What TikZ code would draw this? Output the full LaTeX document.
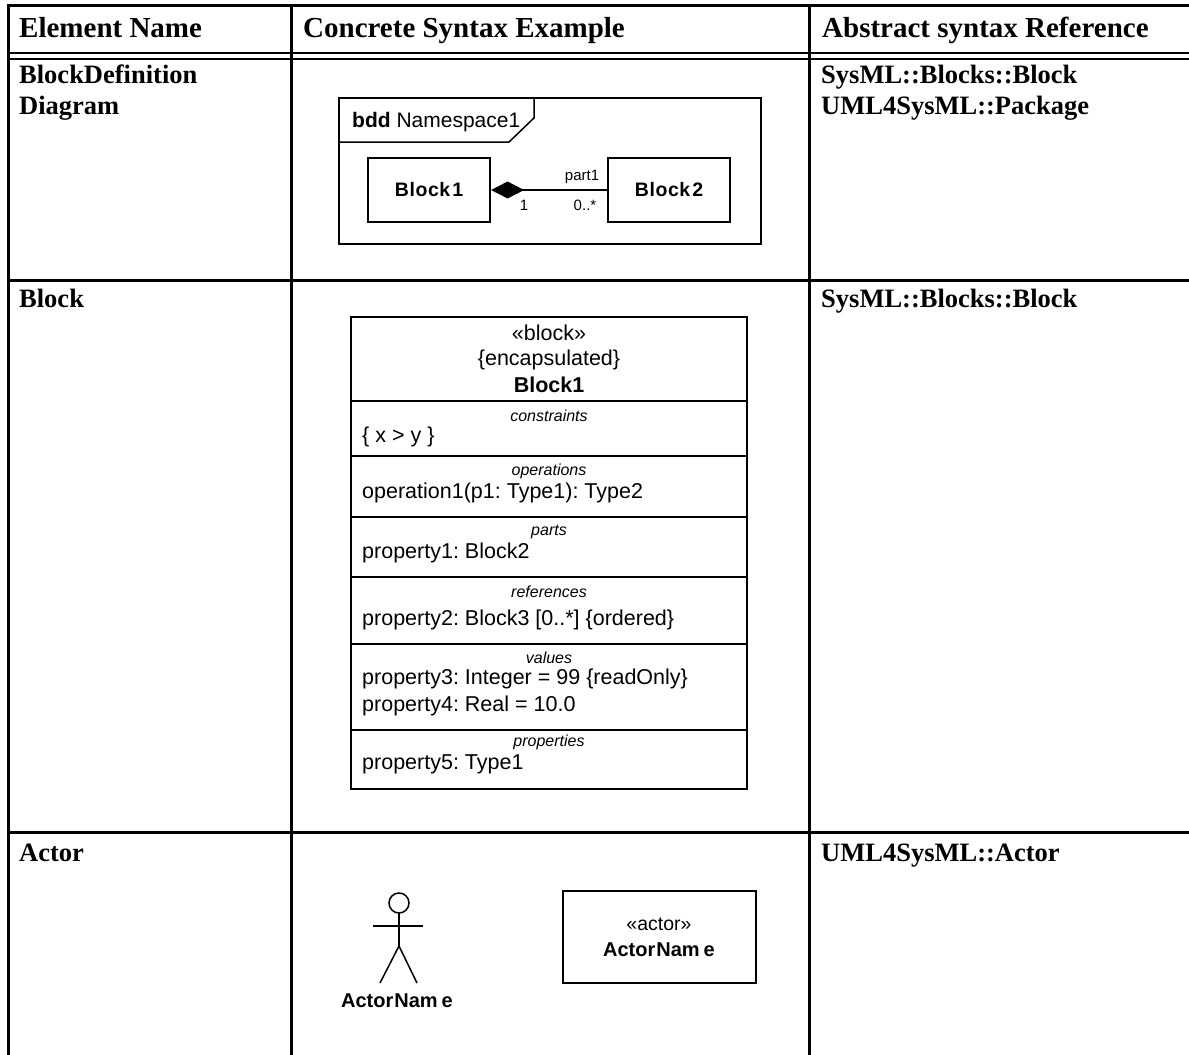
\documentclass[tikz,border=0pt]{standalone}
\usepackage{fontspec}
\setmainfont{Liberation Serif}
\newfontfamily\arial{Liberation Sans}
\newfontfamily\arialls[LetterSpace=3]{Liberation Sans}
\usetikzlibrary{arrows.meta}
\frenchspacing
\begin{document}
\frenchspacing
\begin{tikzpicture}[x=1pt,y=-1pt,
  tline/.style={line width=3pt},
  hdr/.style={anchor=base west, inner sep=0pt, font=\fontsize{29}{31}\selectfont\bfseries},
  cell/.style={anchor=base west, inner sep=0pt, font=\fontsize{26.5}{30}\selectfont\bfseries},
  small/.style={inner sep=0pt, font=\arial\fontsize{16}{18}\selectfont\itshape},
  body/.style={inner sep=0pt, font=\arial\fontsize{21.5}{25}\selectfont},
  bodyl/.style={body, anchor=west},
  boxd/.style={draw, line width=2pt, inner sep=0pt},
  uml/.style={line width=1.5pt},
  bddblock/.style={boxd, line width=2.2pt, minimum width=122pt, minimum height=64pt, font=\arialls\fontsize{19.5}{22}\selectfont\bfseries}
]
\useasboundingbox (0,0) rectangle (1189,1055);
% table
\draw[tline] (6.5,5) -- (1189,5);
\draw[line width=2pt] (7,53) -- (1189,53);
\draw[line width=2pt] (7,59) -- (1189,59);
\draw[tline] (7,280) -- (1189,280);
\draw[tline] (7,832) -- (1189,832);
\draw[tline] (8,3.5) -- (8,1055);
\draw[tline] (291,3.5) -- (291,1055);
\draw[tline] (809,3.5) -- (809,1055);
% headers
\node[hdr] (h1) at (19,37) {Element Name};
\node[hdr] (h2) at (303,37) {Concrete Syntax Example};
\node[hdr] (h3) at (822,37) {Abstract syntax Reference};
% row texts
\node[cell] (r1a) at (19,83) {BlockDefinition};
\node[cell] (r1b) at (19,114) {Diagram};
\node[cell] (r1c) at (821,83) {SysML::Blocks::Block};
\node[cell] (r1d) at (821,114) {UML4SysML::Package};
\node[cell] (r2a) at (19,307) {Block};
\node[cell] (r2c) at (821,307) {SysML::Blocks::Block};
\node[cell] (r3a) at (19,861) {Actor};
\node[cell] (r3c) at (821,861) {UML4SysML::Actor};
% bdd
\node[draw, uml, anchor=north west, minimum width=422pt, minimum height=146pt, inner sep=0pt] (frame) at (338,97) {};
\draw[uml] (frame.west |- 0,142) -- (509,142) -- (534,118) -- (534,97);
\node[anchor=base west, inner sep=0pt, font=\arial\fontsize{21}{24}\selectfont] (bddlbl) at (352,127) {\textbf{bdd} Namespace1};
\node[bddblock] (b1) at (429,190) {Block\kern2pt 1};
\node[bddblock] (b2) at (669,190) {Block\kern2pt 2};
\draw[uml, {Diamond[length=33pt,width=17pt]}-] (b1) -- (b2);
\node[inner sep=0pt, font=\arial\fontsize{15}{17}\selectfont] (pl) at (582,177) {part1};
\node[inner sep=0pt, font=\arial\fontsize{15}{17}\selectfont] (m1) at (524,205) {1};
\node[inner sep=0pt, font=\arial\fontsize{15}{17}\selectfont] (m2) at (585,205) {0..*};
% block
\node[draw, uml, minimum width=396pt, minimum height=472pt, inner sep=0pt] (blk) at (549,553) {};
\foreach \yy in {401,456,517,577,644,730} \draw[uml] (351,\yy) -- (747,\yy);
\node[body] (st) at (549,333) {«block»};
\node[body] (enc) at (549,360) {\{encapsulated\}};
\node[body, font=\arial\fontsize{21.5}{25}\selectfont\bfseries] (bn) at (549,385) {Block1};
\node[small] (c1) at (549,416) {constraints};
\node[small] (c2) at (549,471) {operations};
\node[small] (c3) at (549,532) {parts};
\node[small] (c4) at (549,592) {references};
\node[small] (c5) at (549,658) {values};
\node[small] (c6) at (549,742) {properties};
\node[bodyl] (t1) at (362,437) {\{ x > y \}};
\node[bodyl] (t2) at (362,493) {operation1(p1: Type1): Type2};
\node[bodyl] (t3) at (362,553) {property1: Block2};
\node[bodyl] (t4) at (362,620) {property2: Block3 [0..*] \{ordered\}};
\node[bodyl] (t5) at (362,679) {property3: Integer = 99 \{readOnly\}};
\node[bodyl] (t6) at (362,706) {property4: Real = 10.0};
\node[bodyl] (t7) at (362,764) {property5: Type1};
% actor stick figure
\draw[uml] (399,903) circle (10pt);
\coordinate (neck) at (399,913);
\coordinate (hip) at (399,946);
\draw[uml] (neck) -- (hip);
\draw[uml] (373,926) -- (423,926);
\draw[uml] (380,983) -- (hip) -- (417,983);
\node[inner sep=0pt, font=\arial\fontsize{20}{22}\selectfont\bfseries] (an) at (397,1001) {Actor\kern1pt Nam\kern4pt e};
% actor box
\node[boxd, minimum width=193pt, minimum height=92pt] (abox) at (659.5,937) {};
\node[inner sep=0pt, font=\arial\fontsize{19.5}{22}\selectfont] (ast) at (659,924) {«actor»};
\node[inner sep=0pt, font=\arial\fontsize{20}{22}\selectfont\bfseries] (anm) at (659,950) {Actor\kern1pt Nam\kern4pt e};
\end{tikzpicture}
\end{document}
